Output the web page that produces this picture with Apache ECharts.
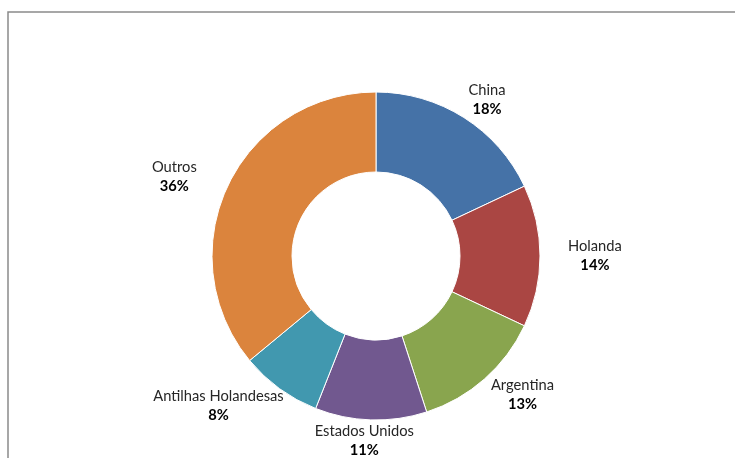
<!DOCTYPE html>
<html><head><meta charset="utf-8">
<script src="https://cdn.jsdelivr.net/npm/echarts@6/dist/echarts.min.js"></script>
<style>html,body{margin:0;padding:0;background:#fff}#c{width:735px;height:458px}</style>
</head><body><div id="c"></div>
<script>
const categories = ['China', 'Holanda', 'Argentina', 'Estados Unidos', 'Antilhas Holandesas', 'Outros'];
const values = [18, 14, 13, 11, 8, 36];
const colors = ['#4572A7', '#AA4643', '#89A54E', '#71588F', '#4198AF', '#DB843D'];

const CX = 376, CY = 256, R_IN = 84, R_OUT = 164, START = 90;
const LABEL_RX = 196, LABEL_RY = 168, LABEL_DX = -4, LABEL_DY = 0;
const total = values.reduce((a, b) => a + b, 0);
const midAngles = [];
let acc = 0;
values.forEach(v => { midAngles.push((START - (acc + v / 2) / total * 360) * Math.PI / 180); acc += v; });

const chart = echarts.init(document.getElementById('c'));
chart.setOption({
  animation: false,
  graphic: [{
    type: 'polyline', silent: true,
    shape: { points: [[8, 460], [8, 12], [740, 12]] },
    style: { stroke: '#8a8a8a', lineWidth: 1.5, fill: null }
  }],
  series: [{
    type: 'pie',
    center: [CX, CY],
    radius: [R_IN, R_OUT],
    startAngle: START,
    clockwise: true,
    avoidLabelOverlap: false,
    itemStyle: { borderColor: '#fff', borderWidth: 1 },
    label: {
      show: true, position: 'outside',
      formatter: '{n|{b}}\n{p|{d}%}',
      rich: {
        n: { fontFamily: 'Lato', fontSize: 14.7, color: '#262626', lineHeight: 19 },
        p: { fontFamily: 'Lato', fontSize: 14.7, fontWeight: 'bold', color: '#000', lineHeight: 19 }
      }
    },
    labelLine: { show: false },
    labelLayout: function (p) {
      const a = midAngles[p.dataIndex];
      const c = Math.cos(a), s = Math.sin(a);
      const w = p.labelRect.width, h = p.labelRect.height;
      return {
        x: CX + LABEL_DX + c * LABEL_RX + c * w / 2,
        y: CY + LABEL_DY - s * LABEL_RY - s * h / 2,
        align: 'center', verticalAlign: 'middle'
      };
    },
    data: categories.map((c, i) => ({ name: c, value: values[i], itemStyle: { color: colors[i] } }))
  }]
});
</script></body></html>
